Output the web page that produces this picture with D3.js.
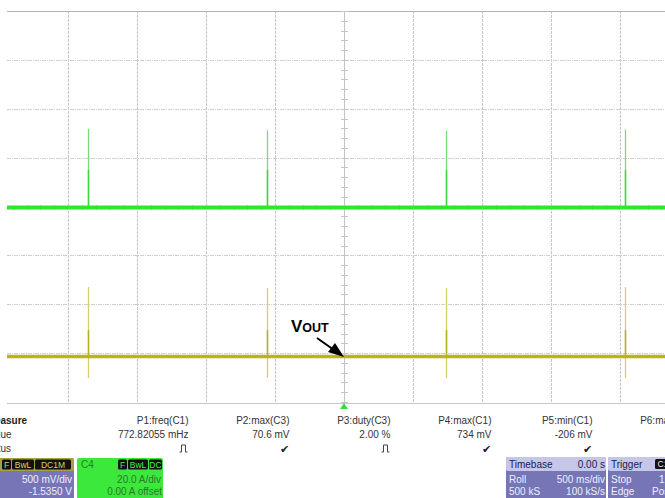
<!DOCTYPE html>
<html><head><meta charset="utf-8">
<script src="https://cdn.jsdelivr.net/npm/d3@7"></script>
<style>
html,body{margin:0;padding:0;background:#fff;overflow:hidden}
svg{display:block;font-family:"Liberation Sans",Arial,sans-serif}
</style></head>
<body>
<svg id="chart" width="665" height="498"></svg>
<script>
// ---- data ----
const spikeTimes = [-1.855, -0.558, 0.739, 2.036];      // s (0.00 s at screen centre)
const c4Baseline = 0.0;                                   // A
const c4SpikePeak = [31.8, 31.2, 31.0, 31.5];             // A
const c4SpikeBright = [15, 15, 15, 15];                   // A (bright lower part)
const c1Baseline = 0.0;                                   // V
const c1SpikeMax = [0.71, 0.70, 0.70, 0.71];              // V
const c1SpikeMin = [-0.22, -0.215, -0.22, -0.22];         // V
const c1SpikeBright = [0.27, 0.27, 0.27, 0.27];           // V
const timeDivs = [-2.5, -2, -1.5, -1, -0.5, 0, 0.5, 1, 1.5, 2, 2.5];
const vertDivs = [-4, -3, -2, -1, 0, 1, 2, 3, 4];
const c1VoltsPerDiv = 0.5, c1Offset = -1.535;
const c4AmpsPerDiv = 20.0, c4Offset = 0.0;

const measureNames  = ["P1:freq(C1)", "P2:max(C3)", "P3:duty(C3)", "P4:max(C1)", "P5:min(C1)", "P6:max(C3)"];
const measureValues = ["772.82055 mHz", "70.6 mV", "2.00 %", "734 mV", "-206 mV", "3"];
const measureStatus = ["pulse", "check", "pulse", "check", "check", ""];
const rowLabels = ["Measure", "value", "status"];
const rowHidden = ["Me", "val", "stat"];   // part of each label lying left of the window

// ---- layout ----
const svg = d3.select("#chart");
const W = 665;
const plotTop = 11, plotBottom = 402, plotLeft = 7;
const x = d3.scaleLinear().domain([-2.5, 2.5]).range([-1, 689]);
const yDiv = d3.scaleLinear().domain([-4, 4]).range([plotBottom, plotTop]);
const yC1 = d3.scaleLinear()
  .domain([-4 * c1VoltsPerDiv - c1Offset, 4 * c1VoltsPerDiv - c1Offset])
  .range([plotBottom, plotTop]);
const yC4 = d3.scaleLinear()
  .domain([-4 * c4AmpsPerDiv - c4Offset, 4 * c4AmpsPerDiv - c4Offset])
  .range([plotBottom, plotTop]);

svg.append("defs").append("clipPath").attr("id", "plotclip")
  .append("rect").attr("x", plotLeft).attr("y", plotTop).attr("width", W - plotLeft).attr("height", plotBottom - plotTop);

// grid
const grid = svg.append("g");
grid.selectAll("line.v").data(timeDivs.filter(t => x(t) > plotLeft && x(t) < W)).join("line")
  .attr("x1", d => Math.round(x(d)) + 0.5).attr("x2", d => Math.round(x(d)) + 0.5)
  .attr("y1", plotTop).attr("y2", plotBottom + 1)
  .attr("stroke", "#c4c4c4").attr("stroke-width", 1)
  .attr("stroke-dasharray", d => d === 0 ? null : "3,1");
grid.selectAll("line.h").data(vertDivs.filter(v => v > -4 && v < 4)).join("line")
  .attr("x1", plotLeft).attr("x2", W)
  .attr("y1", d => Math.round(yDiv(d)) + 0.5).attr("y2", d => Math.round(yDiv(d)) + 0.5)
  .attr("stroke", "#d0d0d0").attr("stroke-width", 1).attr("stroke-dasharray", "4,1,1,1");
// borders
grid.append("line").attr("x1", plotLeft).attr("x2", W).attr("y1", plotTop + 0.5).attr("y2", plotTop + 0.5)
  .attr("stroke", "#b4b4b4");
grid.append("line").attr("x1", plotLeft).attr("x2", W).attr("y1", plotBottom + 1.5).attr("y2", plotBottom + 1.5)
  .attr("stroke", "#c8c8c8");
// centre-axis minor ticks
const minorV = d3.range(-4, 4.01, 0.2);
grid.selectAll("line.tv").data(minorV).join("line")
  .attr("x1", Math.round(x(0)) - 3).attr("x2", Math.round(x(0)) + 4)
  .attr("y1", d => Math.round(yDiv(d)) + 0.5).attr("y2", d => Math.round(yDiv(d)) + 0.5)
  .attr("stroke", "#c4c4c4");
const minorH = d3.range(-2.5, 2.51, 0.1).filter(t => x(t) > plotLeft && x(t) < W);
grid.selectAll("line.th").data(minorH).join("line")
  .attr("x1", d => Math.round(x(d)) + 0.5).attr("x2", d => Math.round(x(d)) + 0.5)
  .attr("y1", Math.round(yDiv(0)) - 2).attr("y2", Math.round(yDiv(0)) + 3)
  .attr("stroke", "#d0d0d0");

// traces
const traces = svg.append("g").attr("clip-path", "url(#plotclip)");
const green = "#2ee62e", greenSpike = "#7ad97a", greenSpikeBright = "#3fd83f";
const yellow = "#b9b41c", yellowSpike = "#d3d06a", yellowSpikeBright = "#b5b022";

// C4 (green)
traces.selectAll("line.gs").data(spikeTimes).join("line")
  .attr("x1", d => Math.round(x(d)) + 0.5).attr("x2", d => Math.round(x(d)) + 0.5)
  .attr("y1", (d, i) => yC4(c4SpikePeak[i])).attr("y2", yC4(c4Baseline))
  .attr("stroke", greenSpike).attr("stroke-width", 1.3);
traces.selectAll("line.gsb").data(spikeTimes).join("line")
  .attr("x1", d => Math.round(x(d)) + 0.5).attr("x2", d => Math.round(x(d)) + 0.5)
  .attr("y1", (d, i) => yC4(c4SpikeBright[i])).attr("y2", yC4(c4Baseline))
  .attr("stroke", greenSpikeBright).attr("stroke-width", 1.5);
traces.append("line").attr("x1", x(-2.5)).attr("x2", x(2.5))
  .attr("y1", yC4(c4Baseline) + 1).attr("y2", yC4(c4Baseline) + 1)
  .attr("stroke", green).attr("stroke-width", 4);

// C1 (yellow)
traces.selectAll("line.ys").data(spikeTimes).join("line")
  .attr("x1", d => Math.round(x(d)) + 0.5).attr("x2", d => Math.round(x(d)) + 0.5)
  .attr("y1", (d, i) => yC1(c1SpikeMax[i])).attr("y2", (d, i) => yC1(c1SpikeMin[i]))
  .attr("stroke", yellowSpike).attr("stroke-width", 1.3);
traces.selectAll("line.ysb").data(spikeTimes).join("line")
  .attr("x1", d => Math.round(x(d)) + 0.5).attr("x2", d => Math.round(x(d)) + 0.5)
  .attr("y1", (d, i) => yC1(c1SpikeBright[i])).attr("y2", yC1(c1Baseline))
  .attr("stroke", yellowSpikeBright).attr("stroke-width", 1.5);
traces.append("line").attr("x1", x(-2.5)).attr("x2", x(2.5))
  .attr("y1", yC1(c1Baseline)).attr("y2", yC1(c1Baseline))
  .attr("stroke", yellow).attr("stroke-width", 3.5);

// trigger marker
svg.append("path")
  .attr("d", `M${x(0)},${plotBottom + 1} l-4,6 h8 z`)
  .attr("fill", "#3fd83f");

// VOUT annotation
const ann = svg.append("g");
const vt = ann.append("text").attr("x", 291).attr("y", 332)
  .attr("font-family", "Liberation Sans, Arial, sans-serif").attr("font-weight", "bold").attr("fill", "#000");
vt.append("tspan").attr("font-size", 17).text("V");
vt.append("tspan").attr("font-size", 12.5).text("OUT");
ann.append("line").attr("x1", 317).attr("y1", 338).attr("x2", 334).attr("y2", 350)
  .attr("stroke", "#000").attr("stroke-width", 2);
ann.append("path").attr("d", "M344,357 L328,352 L335,343 Z").attr("fill", "#000");

// measurement table
const tbl = svg.append("g").attr("font-size", 10).attr("fill", "#333");
const rowY = [424, 438, 452];
rowLabels.forEach((lab, i) => {
  const probe = tbl.append("text").attr("font-weight", i === 0 ? "bold" : "normal").text(rowHidden[i]);
  const w = probe.node().getComputedTextLength();
  probe.remove();
  tbl.append("text").attr("x", -w + 0.5).attr("y", rowY[i])
    .attr("font-weight", i === 0 ? "bold" : "normal")
    .attr("fill", i === 0 ? "#222" : "#333")
    .text(lab);
});
const colRight = measureNames.map((d, i) => 188.5 + i * 101);
tbl.selectAll("text.mn").data(measureNames).join("text")
  .attr("x", (d, i) => colRight[i]).attr("y", rowY[0]).attr("text-anchor", "end").text(d => d);
tbl.selectAll("text.mv").data(measureValues).join("text")
  .attr("x", (d, i) => colRight[i]).attr("y", rowY[1]).attr("text-anchor", "end").text(d => d);
measureStatus.forEach((s, i) => {
  const cx = colRight[i] - 5;
  if (s === "check") {
    tbl.append("text").attr("x", cx).attr("y", rowY[2] + 1).attr("text-anchor", "middle")
      .attr("font-family", "DejaVu Sans").attr("font-size", 11).attr("fill", "#222").text("\u2714");
  } else if (s === "pulse") {
    tbl.append("path").attr("d", `M${cx - 4},${rowY[2]} h2 v-7 h4 v7 h2`)
      .attr("fill", "none").attr("stroke", "#444").attr("stroke-width", 1);
  }
});

// channel descriptor boxes
function tag(g, x0, y0, w, txt, col) {
  g.append("rect").attr("x", x0).attr("y", y0).attr("width", w).attr("height", 10).attr("rx", 1.5).attr("fill", "#111");
  g.append("text").attr("x", x0 + w / 2).attr("y", y0 + 8.3).attr("text-anchor", "middle")
    .attr("font-size", 8.5).attr("fill", col).text(txt);
}
const bx = svg.append("g").attr("font-size", 10);
// C1 box
bx.append("rect").attr("x", -2).attr("y", 458).attr("width", 76).attr("height", 42).attr("rx", 2).attr("fill", "#7676b6");
bx.append("rect").attr("x", -2).attr("y", 458).attr("width", 76).attr("height", 13).attr("rx", 2).attr("fill", "#a8a040");
tag(bx, 2, 459.5, 9, "F", "#d8d070");
tag(bx, 12, 459.5, 22, "BwL", "#d8d070");
tag(bx, 35, 459.5, 36, "DC1M", "#d8d070");
bx.append("text").attr("x", 72).attr("y", 483).attr("text-anchor", "end").attr("fill", "#eeeeff").text("500 mV/div");
bx.append("text").attr("x", 72).attr("y", 495).attr("text-anchor", "end").attr("fill", "#eeeeff").text("-1.5350 V");
// C4 box
bx.append("rect").attr("x", 77).attr("y", 458).attr("width", 86).attr("height", 42).attr("rx", 2).attr("fill", "#3de83d");
bx.append("text").attr("x", 81).attr("y", 468).attr("fill", "#2a7a2a").text("C4");
tag(bx, 118, 459.5, 9, "F", "#44ee44");
tag(bx, 128, 459.5, 20, "BwL", "#44ee44");
tag(bx, 149, 459.5, 13, "DC", "#44ee44");
bx.append("text").attr("x", 161).attr("y", 483).attr("text-anchor", "end").attr("fill", "#2a7a2a").text("20.0 A/div");
bx.append("text").attr("x", 162).attr("y", 495).attr("text-anchor", "end").attr("fill", "#2a7a2a").text("0.00 A offset");
// Timebase box
bx.append("rect").attr("x", 506).attr("y", 457).attr("width", 100).attr("height", 43).attr("rx", 2).attr("fill", "#7676b6");
bx.append("rect").attr("x", 506).attr("y", 457).attr("width", 100).attr("height", 14).attr("rx", 2).attr("fill", "#c6c6e8");
bx.append("text").attr("x", 509).attr("y", 468).attr("fill", "#1c1c50").text("Timebase");
bx.append("text").attr("x", 605).attr("y", 468).attr("text-anchor", "end").attr("fill", "#1c1c50").text("0.00 s");
bx.append("text").attr("x", 509).attr("y", 483).attr("fill", "#eeeeff").text("Roll");
bx.append("text").attr("x", 605).attr("y", 483).attr("text-anchor", "end").attr("fill", "#eeeeff").text("500 ms/div");
bx.append("text").attr("x", 509).attr("y", 495).attr("fill", "#eeeeff").text("500 kS");
bx.append("text").attr("x", 605).attr("y", 495).attr("text-anchor", "end").attr("fill", "#eeeeff").text("100 kS/s");
// Trigger box
bx.append("rect").attr("x", 608).attr("y", 457).attr("width", 70).attr("height", 43).attr("rx", 2).attr("fill", "#7676b6");
bx.append("rect").attr("x", 608).attr("y", 457).attr("width", 70).attr("height", 14).attr("rx", 2).attr("fill", "#c6c6e8");
bx.append("text").attr("x", 611).attr("y", 468).attr("fill", "#1c1c50").text("Trigger");
tag(bx, 655, 459, 16, "C1", "#eeeeee");
bx.append("text").attr("x", 611).attr("y", 483).attr("fill", "#eeeeff").text("Stop");
bx.append("text").attr("x", 659).attr("y", 483).attr("fill", "#eeeeff").text("1.00 V");
bx.append("text").attr("x", 611).attr("y", 495).attr("fill", "#eeeeff").text("Edge");
bx.append("text").attr("x", 652).attr("y", 495).attr("fill", "#eeeeff").text("Positive");
</script>
</body></html>
